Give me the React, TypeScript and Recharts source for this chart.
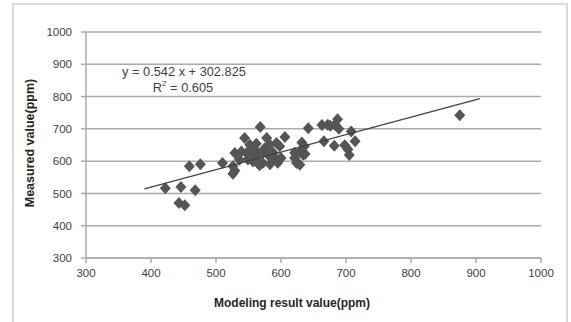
import { CartesianGrid, Scatter, ScatterChart, XAxis, YAxis } from 'recharts'

const modeled = [
  422, 446, 443, 452, 468, 459, 476, 510, 526, 529, 526, 529, 536, 539, 544, 547, 549, 552, 557,
  557, 562, 565, 565, 568, 572, 572, 567, 578, 580, 583, 583, 586, 588, 593, 593, 595, 598, 598,
  600, 606, 621, 621, 624, 629, 629, 632, 634, 636, 637, 642, 663, 666, 672, 676, 682, 683, 687,
  689, 698, 703, 705, 708, 714, 875, 556, 575,
]
const measured = [
  516, 520, 470, 463, 510, 584, 590, 594, 561, 570, 584, 625, 604, 630, 672, 625, 605, 651, 630,
  599, 654, 625, 599, 706, 625, 594, 587, 672, 620, 651, 590, 611, 626, 656, 605, 595, 646, 605,
  610, 675, 626, 610, 594, 589, 630, 658, 620, 646, 622, 702, 712, 662, 713, 710, 648, 713, 730,
  700, 649, 636, 619, 692, 662, 742, 612, 640,
]
const xTicks = [300, 400, 500, 600, 700, 800, 900, 1000]
const yTicks = [300, 400, 500, 600, 700, 800, 900, 1000]
const slope = 0.542
const intercept = 302.825
const trendRange = [390, 906]

const points = modeled.map((x, i) => ({ x, y: measured[i] }))
const trend = trendRange.map((x) => ({ x, y: slope * x + intercept }))

const font = '"Liberation Sans", Arial, sans-serif'
const tickStyle = { fontSize: 11.5, fill: '#404040', fontFamily: font }
const gridColor = '#ababab'

function Diamond(props: any) {
  const { cx, cy } = props
  if (cx == null || cy == null) return <g />
  return (
    <polygon
      points={`${cx},${cy - 6} ${cx + 5.5},${cy} ${cx},${cy + 6} ${cx - 5.5},${cy}`}
      fill="#555555"
    />
  )
}

export default function App() {
  return (
    <div
      style={{
        position: 'absolute',
        left: 0,
        top: 0,
        width: 571,
        height: 322,
        overflow: 'hidden',
        background: '#fff',
        fontFamily: font,
      }}
    >
      <div
        style={{
          position: 'absolute',
          left: 12,
          top: 3,
          width: 552,
          height: 340,
          border: '2px solid #d9d9d9',
        }}
      />
      <ScatterChart
        width={571}
        height={322}
        margin={{ top: 32, right: 30, bottom: 0, left: 0 }}
        style={{ position: 'absolute', left: 0, top: 0 }}
      >
        <CartesianGrid vertical={false} stroke={gridColor} strokeWidth={1.5} />
        <XAxis
          type="number"
          dataKey="x"
          domain={[300, 1000]}
          ticks={xTicks}
          height={64}
          tick={tickStyle}
          tickSize={5}
          tickMargin={6}
          stroke={gridColor}
          strokeWidth={1.5}
        />
        <YAxis
          type="number"
          dataKey="y"
          domain={[300, 1000]}
          ticks={yTicks}
          width={86}
          tick={tickStyle}
          tickSize={5}
          tickMargin={9}
          stroke={gridColor}
          strokeWidth={1.5}
        />
        <Scatter data={points} shape={Diamond} isAnimationActive={false} />
        <Scatter
          data={trend}
          line={{ stroke: '#404040', strokeWidth: 1.3 }}
          shape={() => <g />}
          isAnimationActive={false}
        />
      </ScatterChart>
      <div
        style={{
          position: 'absolute',
          left: 292,
          top: 303,
          transform: 'translate(-50%, -50%)',
          fontSize: 12,
          fontWeight: 'bold',
          color: '#262626',
          whiteSpace: 'nowrap',
        }}
      >
        Modeling result value(ppm)
      </div>
      <div
        style={{
          position: 'absolute',
          left: 30,
          top: 143,
          transform: 'translate(-50%, -50%) rotate(-90deg)',
          fontSize: 12.5,
          fontWeight: 'bold',
          color: '#262626',
          whiteSpace: 'nowrap',
        }}
      >
        Measured value(ppm)
      </div>
      <div
        style={{
          position: 'absolute',
          left: 184,
          top: 71,
          transform: 'translate(-50%, -50%)',
          fontSize: 12.8,
          color: '#404040',
          whiteSpace: 'nowrap',
        }}
      >
        y = 0.542 x + 302.825
      </div>
      <div
        style={{
          position: 'absolute',
          left: 183,
          top: 87,
          transform: 'translate(-50%, -50%)',
          fontSize: 12.8,
          color: '#404040',
          whiteSpace: 'nowrap',
        }}
      >
        R<sup style={{ fontSize: 8 }}>2</sup> = 0.605
      </div>
    </div>
  )
}
